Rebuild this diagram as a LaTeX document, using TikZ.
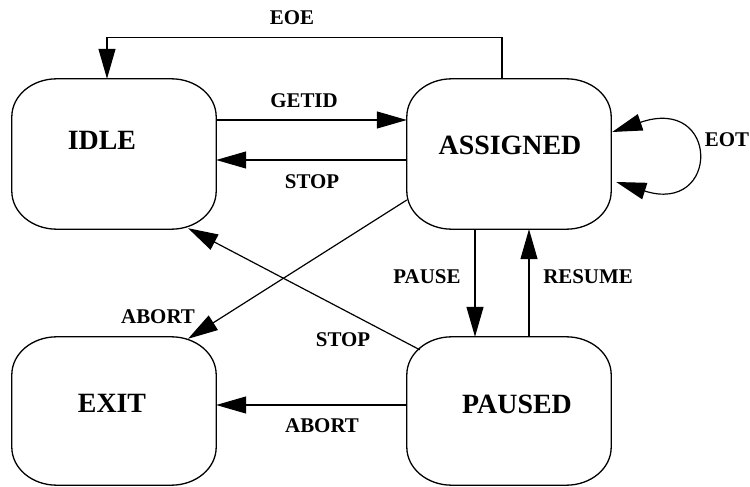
\documentclass[tikz,border=0pt]{standalone}
\usepackage{fontspec}
\setmainfont{Liberation Serif}
\usetikzlibrary{calc,arrows.meta}

% outline of a state: rectangle with elliptical corners around a named node
\newcommand\stateoutline[1]{%
  \draw[boxline] let \p1=(#1.north west), \p2=(#1.south east) in
    (\x1+45bp,\y1) -- (\x2-45bp,\y1)
    .. controls (\x2-20bp,\y1) and (\x2,\y1-17bp) .. (\x2,\y1-38bp)
    -- (\x2,\y2+38bp)
    .. controls (\x2,\y2+17bp) and (\x2-20bp,\y2) .. (\x2-45bp,\y2)
    -- (\x1+45bp,\y2)
    .. controls (\x1+20bp,\y2) and (\x1,\y2+17bp) .. (\x1,\y2+38bp)
    -- (\x1,\y1-38bp)
    .. controls (\x1,\y1-17bp) and (\x1+20bp,\y1) .. cycle;}

\begin{document}
\begin{tikzpicture}[x=1bp,y=-1bp,
  boxline/.style={line width=1.3bp},
  state/.style={inner sep=0pt,minimum width=204bp,minimum height=150bp},
  title/.style={font=\fontsize{28}{30}\selectfont\bfseries,inner sep=0pt},
  lbl/.style={font=\fontsize{21}{23}\selectfont\bfseries,inner sep=0pt},
  tip/.style={Triangle[length=30bp,width=17bp]},
  arr/.style={line width=1.2bp,-{Triangle[length=30bp,width=17bp]}},
  arrboth/.style={line width=1.2bp,{Triangle[length=30bp,width=17bp]}-{Triangle[length=30bp,width=17bp]}}]
\useasboundingbox (0,0) rectangle (750,487);

% states
\node[state] (idle) at (114,154) {};
\node[state] (assigned) at (509,154) {};
\node[state,minimum height=148bp] (exit) at (114,411) {};
\node[state,minimum height=148bp] (paused) at (509,411) {};
\stateoutline{idle}
\stateoutline{assigned}
\stateoutline{exit}
\stateoutline{paused}

\node[title] (idleT) at (102,140) {IDLE};
\node[title] (assignedT) at (510,145) {ASSIGNED};
\node[title] (exitT) at (112,403) {EXIT};
\node[title] (pausedT) at (517,404) {PAUSED};

% transitions
\draw[arr] ([xshift=-7bp]assigned.north) -- ++(0,-41) -| ([xshift=-7bp]idle.north);
\draw[arr] ([yshift=34bp]idle.east) -- ([yshift=34bp]assigned.west);
\draw[arr] ([yshift=-6bp]assigned.west) -- ([yshift=-6bp]idle.east);
\draw[arr] ([yshift=-46bp]assigned.west) -- ([xshift=74bp,yshift=-2bp]exit.north);
\draw[arr] ([xshift=13bp,yshift=-13bp]paused.north west) -- ([xshift=74bp,yshift=1bp]idle.south);
\draw[arr] ([yshift=6bp]paused.west) -- ([yshift=6bp]exit.east);
\draw[arr] ([xshift=-34bp]assigned.south) -- ([xshift=-34bp]paused.north);
\draw[arr] ([xshift=20bp]paused.north) -- ([xshift=20bp]assigned.south);
\draw[arrboth] ([xshift=5bp,yshift=-28bp]assigned.east)
  .. controls +(104,33) and +(108,-37) .. ([xshift=1bp,yshift=22bp]assigned.east);

% transition labels
\node[lbl] (eoe) at (292,18) {EOE};
\node[lbl] (getid) at (304,101) {GETID};
\node[lbl] (stop1) at (312,182) {STOP};
\node[lbl] (eot) at (727,140) {EOT};
\node[lbl] (abort1) at (158,317) {ABORT};
\node[lbl] (stop2) at (343,340) {STOP};
\node[lbl] (abort2) at (322,426) {ABORT};
\node[lbl] (pause) at (427,277) {PAUSE};
\node[lbl] (resume) at (588,277) {RESUME};
\end{tikzpicture}
\end{document}
